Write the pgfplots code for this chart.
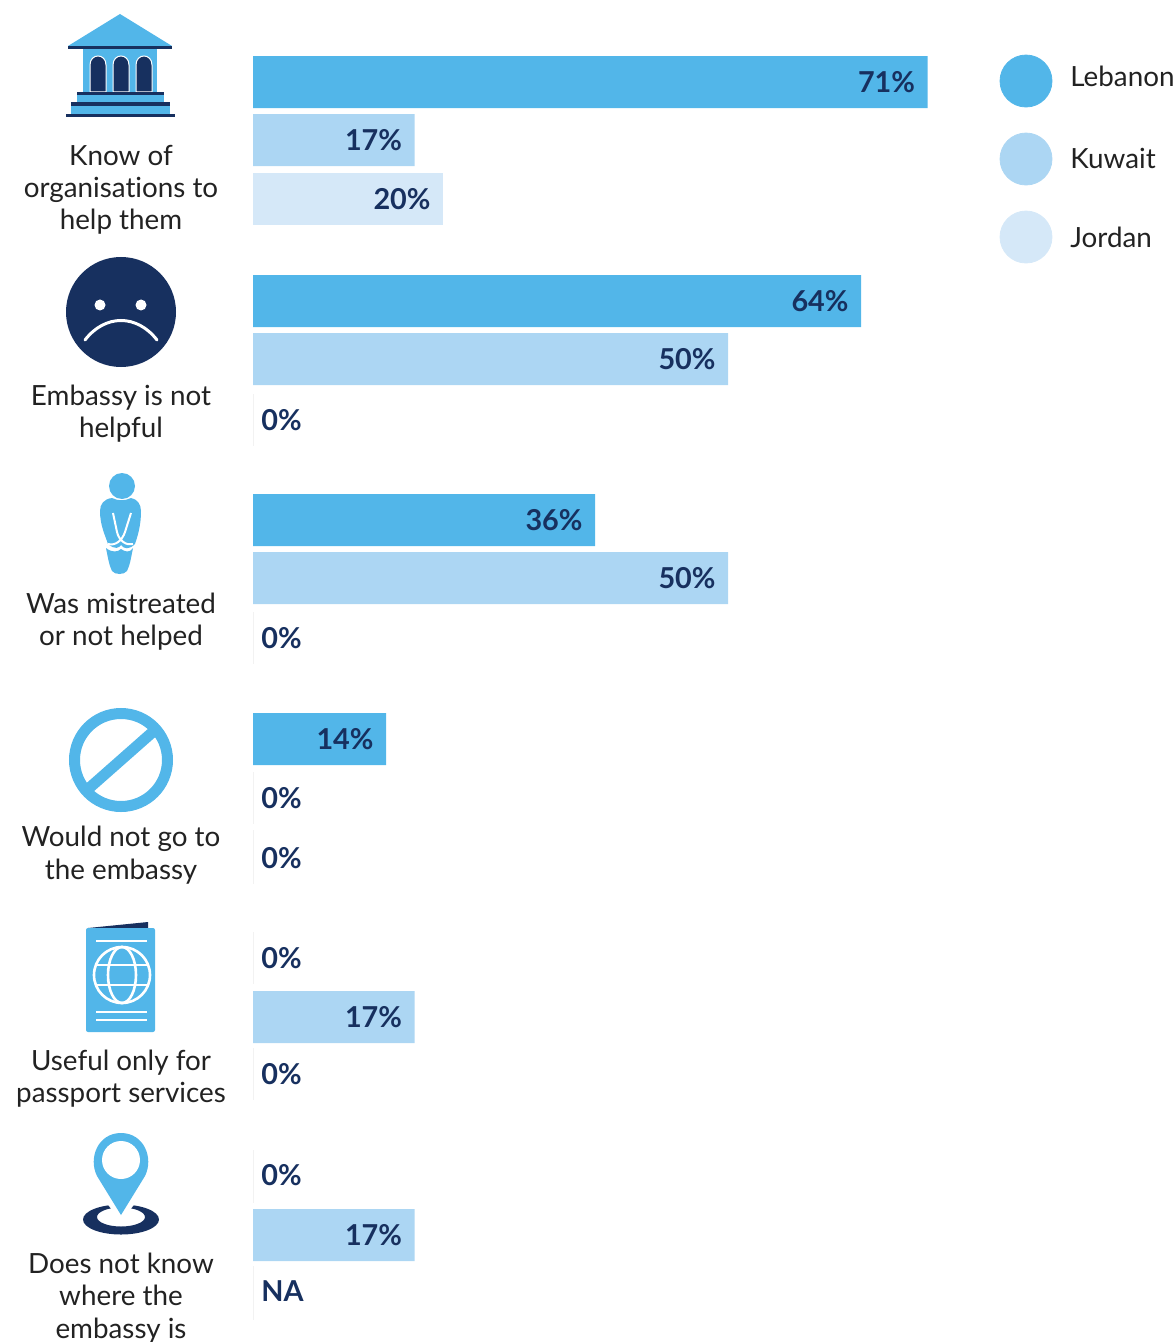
\documentclass[border=0pt]{standalone}
\usepackage{fontspec}
\setmainfont{Lato}[Ligatures=NoCommon]
\usepackage{pgfplots}
\pgfplotsset{compat=1.18}
\definecolor{leb}{HTML}{52B6E9}
\definecolor{kuw}{HTML}{ACD6F3}
\definecolor{jor}{HTML}{D5E8F8}
\definecolor{navy}{HTML}{17305F}
\definecolor{txt}{HTML}{222222}
\pgfplotsset{
    series/.style = {
        xbar, bar shift = 0pt, bar width = 26pt, draw = none, fill = #1,
        point meta = explicit symbolic,
        nodes near coords,
        every node near coord/.append style = {
            anchor = east, xshift = -2.7pt, text = navy,
            font = \fontsize{14.4}{16}\selectfont\bfseries
        }
    },
    % a value of zero has no bar, its label sits right of the base line
    zero/.style = {
        xbar, bar shift = 0pt, bar width = 26pt, draw = none, fill = none,
        point meta = explicit symbolic,
        nodes near coords,
        every node near coord/.append style = {
            anchor = west, xshift = 0.7pt, text = navy,
            font = \fontsize{14.4}{16}\selectfont\bfseries
        }
    }
}
% one line of a label, y is the baseline in pixels
\newcommand{\lab}[2]{\node[anchor = base, text = txt, font = \fontsize{13.9}{15}\selectfont] at (121,#1) {#2};}
\begin{document}
\begin{tikzpicture}
    \useasboundingbox (0,0) rectangle (588pt,-671pt);
    % x in percent (9.5 px per 1%), y in pixels from the top
    \begin{axis}[
        at = {(0,0)}, anchor = north west,
        scale only axis, width = 588pt, height = 671pt,
        xmin = -26.632, xmax = 97.158,
        ymin = 0, ymax = 1342, y dir = reverse,
        hide axis, clip = false
    ]
        % faint base line of the empty bars
        \addplot[black!5, line width = 0.5pt, unbounded coords = jump, forget plot] coordinates {
            (0,394) (0,446) (nan,nan)
            (0,612) (0,664) (nan,nan)
            (0,772) (0,824) (nan,nan)
            (0,830) (0,884) (nan,nan)
            (0,932) (0,984) (nan,nan)
            (0,1048) (0,1100) (nan,nan)
            (0,1150) (0,1203) (nan,nan)
            (0,1266) (0,1320)
        };
        \addplot[series = leb] coordinates {
            (71,82) [71\%]
            (64,301) [64\%]
            (36,520) [36\%]
            (14,739) [14\%]
        };
        \addplot[zero] coordinates {
            (0,958) [0\%]
            (0,1175) [0\%]
        };
        \addplot[series = kuw] coordinates {
            (17,140) [17\%]
            (50,359) [50\%]
            (50,578) [50\%]
            (17,1017) [17\%]
            (17,1235) [17\%]
        };
        \addplot[zero] coordinates {
            (0,798) [0\%]
        };
        \addplot[series = jor] coordinates {
            (20,199) [20\%]
        };
        \addplot[zero] coordinates {
            (0,420) [0\%]
            (0,638) [0\%]
            (0,858) [0\%]
            (0,1074) [0\%]
            (0,1291) [NA]
        };
        % legend dots
        \addplot[only marks, mark = *, mark size = 13pt, leb, point meta = none] coordinates {(81.37,81)};
        \addplot[only marks, mark = *, mark size = 13pt, kuw, point meta = none] coordinates {(81.37,159)};
        \addplot[only marks, mark = *, mark size = 13pt, jor, point meta = none] coordinates {(81.37,237)};
    \end{axis}
    \begin{scope}[x = 0.5pt, y = -0.5pt]
        % legend text
        \node[anchor = base west, inner sep = 0pt, text = txt, font = \fontsize{13.9}{15}\selectfont] at (1070,87) {Lebanon};
        \node[anchor = base west, inner sep = 0pt, text = txt, font = \fontsize{13.9}{15}\selectfont] at (1070,169) {Kuwait};
        \node[anchor = base west, inner sep = 0pt, text = txt, font = \fontsize{13.9}{15}\selectfont] at (1070,248) {Jordan};

        % category labels
        \lab{166}{Know of} \lab{198}{organisations to} \lab{230}{help them}
        \lab{405}{Embassy is not} \lab{437}{helpful}
        \lab{613}{Was mistreated} \lab{645}{or not helped}
        \lab{846}{Would not go to} \lab{879}{the embassy}
        \lab{1070}{Useful only for} \lab{1102}{passport services}
        \lab{1273}{Does not know} \lab{1305}{where the} \lab{1338}{embassy is}

        % bank
        \fill[leb] (120,14) -- (172,46) -- (68,46) -- cycle;
        \fill[leb] (83,49) rectangle (157,92);
        \foreach \a in {90,113,136} {
            \fill[navy, draw = white, line width = 0.5pt] (\a,92) -- (\a,65)
                .. controls (\a,53) and (\a+16,53) .. (\a+16,65) -- (\a+16,92) -- cycle;
        }
        \fill[leb] (77,94) rectangle (164,104);
        \fill[leb] (71,105) rectangle (170,115);
        \draw[navy, line width = 1.5pt] (68,48) -- (172,48);
        \draw[navy, line width = 1.6pt] (77,93.5) -- (164,93.5);
        \draw[navy, line width = 1.6pt] (71,104) -- (170,104);
        \draw[navy, line width = 1.6pt] (66,115.5) -- (175,115.5);

        % sad face
        \fill[navy] (121,312) circle[radius = 55];
        \fill[white] (100,305) circle[radius = 5.5];
        \fill[white] (141,305) circle[radius = 5.5];
        \draw[white, line width = 1.5pt, line cap = round] (85,340) .. controls (105,314) and (137,314) .. (157,340);

        % person
        \fill[leb] (122,486) circle[radius = 13];
        \fill[leb] (112,498) .. controls (104,499) and (100,504) .. (100,511)
            .. controls (100,525) and (105,535) .. (108,544)
            .. controls (115,550) and (119,548) .. (121,545)
            .. controls (124,549) and (129,550) .. (135,544)
            .. controls (138,535) and (141,525) .. (141,511)
            .. controls (141,504) and (137,499) .. (131,498)
            .. controls (125,501) and (118,501) .. (112,498) -- cycle;
        \fill[leb] (106,548) .. controls (112,553) and (118,552) .. (121,549)
            .. controls (125,552) and (130,553) .. (133,548)
            .. controls (131,558) and (130,565) .. (127,571)
            .. controls (124,575) and (115,575) .. (112,571)
            .. controls (109,565) and (108,558) .. (106,548) -- cycle;
        \draw[white, line width = 1pt] (113,513) -- (117,532) .. controls (119,541) and (127,546) .. (133,544);
        \draw[white, line width = 1pt] (131,513) -- (125,532) .. controls (122,541) and (115,546) .. (108,544);

        % no sign
        \draw[leb, line width = 5.5pt] (121,760) circle[radius = 46.5];
        \draw[leb, line width = 5.5pt] (87,790) -- (155,730);

        % passport
        \fill[navy] (88,928) -- (148,922) -- (148,929) -- (88,929) -- cycle;
        \fill[leb, rounded corners = 1pt] (86,928) rectangle (155,1032);
        \draw[white, line width = 1pt] (96,941) -- (147,941) (96,1012) -- (147,1012) (96,1020) -- (147,1020);
        \draw[white, line width = 1.3pt] (122,975) circle[radius = 28];
        \draw[white, line width = 1.3pt] (122,975) ellipse[x radius = 14, y radius = 28];
        \draw[white, line width = 1.3pt] (97,965) -- (147,965) (97,985) -- (147,985);

        % map pin
        \fill[navy, even odd rule] (121,1219.5) ellipse[x radius = 38, y radius = 15]
            (121,1217) ellipse[x radius = 24, y radius = 9.5];
        \fill[white] (121,1222) -- (97,1190) -- (145,1190) -- cycle;
        \fill[leb] (121,1215) -- (97,1176) .. controls (88,1158) and (98,1133) .. (121,1133)
            .. controls (144,1133) and (154,1158) .. (145,1176) -- cycle;
        \fill[white] (121,1160) circle[radius = 19];
    \end{scope}
\end{tikzpicture}
\end{document}
